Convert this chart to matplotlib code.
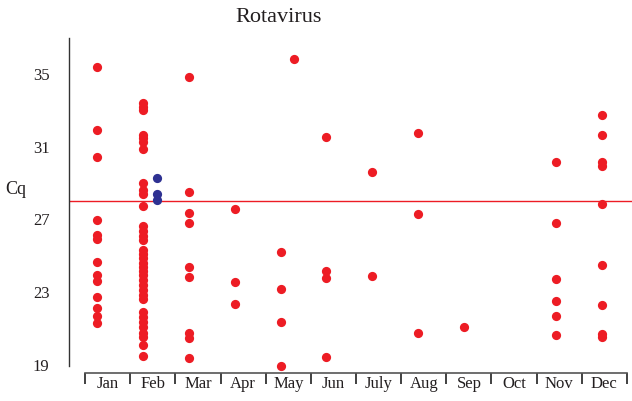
import numpy as np
import matplotlib
matplotlib.use("Agg")
import matplotlib.pyplot as plt

plt.rcParams['font.family'] = ['Liberation Serif', 'DejaVu Serif']

# month labels
months = ["Jan", "Feb", "Mar", "Apr", "May", "Jun", "July", "Aug", "Sep", "Oct", "Nov", "Dec"]

# Cq values per month (red samples)
jan = [35.36, 31.91, 30.41, 26.97, 26.14, 25.91, 24.68, 23.95, 23.62, 22.75, 22.12, 21.71, 21.32]
feb = [33.41, 33.19, 33.01, 31.64, 31.46, 31.27, 30.85, 29.02, 28.62, 28.40, 27.75,
       26.64, 26.38, 26.09, 25.87, 25.32, 25.10, 24.88, 24.62, 24.40, 24.16, 23.95,
       23.67, 23.40, 23.12, 22.85, 22.61, 21.93, 21.65, 21.38, 21.10, 20.77, 20.55,
       20.10, 19.49]
mar = [34.81, 28.52, 27.34, 26.82, 24.40, 23.85, 20.77, 20.46, 19.40]
apr = [27.60, 23.54, 22.34]
may = [25.19, 23.18, 21.35, 18.97]
jun = [31.54, 24.18, 23.76, 19.42]
jul = [29.62, 23.89]
aug = [31.73, 27.29, 20.74]
sep = [21.10]
oct_ = []
nov = [30.17, 26.79, 23.71, 22.53, 21.69, 20.63]
dec = [32.74, 31.64, 30.17, 29.93, 27.85, 24.48, 22.30, 20.70, 20.55]
red_by_month = [jan, feb, mar, apr, may, jun, jul, aug, sep, oct_, nov, dec]

# points drawn slightly to the right of their month column
may_extra = [35.80]
blue_feb = [29.26, 28.40, 28.07]

threshold = 28.0

red = "#ed1c24"
blue = "#2e3192"
dark = "#231f20"

fig = plt.figure(figsize=(6.32, 4.01), dpi=100)
ax = fig.add_axes([69 / 632, 28 / 401, 563 / 632, 335 / 401])

for i, vals in enumerate(red_by_month):
    ax.scatter(np.full(len(vals), i), vals, s=44, color=red, linewidths=0, zorder=3)
ax.scatter(np.full(len(may_extra), 4.3), may_extra, s=44, color=red, linewidths=0, zorder=3)
ax.scatter(np.full(len(blue_feb), 1.3), blue_feb, s=44, color=blue, linewidths=0, zorder=4)

ax.axhline(threshold, color=red, lw=1.0, zorder=2)

ax.set_xlim(-0.61, 11.66)
ax.set_ylim(18.56, 36.97)

for s in ["top", "right"]:
    ax.spines[s].set_visible(False)
ax.spines["left"].set_bounds(18.95, 36.97)
ax.spines["left"].set_color("#333333")
ax.spines["left"].set_linewidth(1.0)

# month separators on the bottom axis
sep_pos = np.linspace(-0.26, 11.55, 13)
ax.spines["bottom"].set_bounds(sep_pos[0], sep_pos[-1])
ax.spines["bottom"].set_color("#555555")
ax.spines["bottom"].set_linewidth(1.2)

ax.set_yticks([19, 23, 27, 31, 35])
ax.tick_params(axis="y", length=0, pad=14, labelsize=12, labelcolor=dark)

ax.set_xticks(sep_pos)
ax.set_xticklabels([])
ax.tick_params(axis="x", which="major", direction="out", length=8, width=1.3, color="#333333")
ax.set_xticks((sep_pos[:-1] + sep_pos[1:]) / 2, minor=True)
ax.set_xticklabels(months, minor=True)
ax.tick_params(axis="x", which="minor", length=0, pad=2, labelsize=12, labelcolor=dark)

fig.text(279 / 632, 1 - 18 / 401, "Rotavirus", ha="center", va="center", fontsize=16, color=dark)
fig.text(16 / 632, 1 - 190 / 401, "Cq", ha="center", va="center", fontsize=13, color=dark)

fig.savefig("out.png", dpi=100)
